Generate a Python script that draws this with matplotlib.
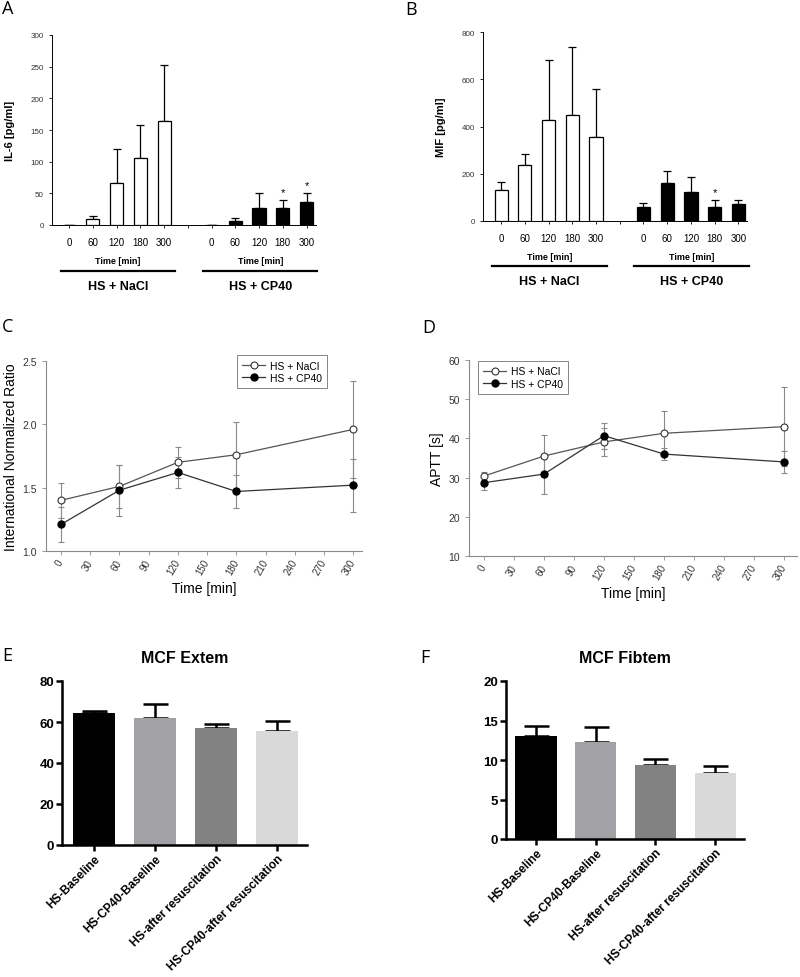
import numpy as np
import matplotlib
matplotlib.use("Agg")
from matplotlib import pyplot as plt
import matplotlib.transforms as mtrans

plt.rcParams['font.family'] = ['Liberation Sans', 'DejaVu Sans']

W, H = 800, 978

# ---- data ----
times_lbl = ['0', '60', '120', '180', '300']

il6_nacl = [0, 9, 66, 106, 164]
il6_nacl_err = [0, 5, 54, 52, 88]
il6_cp40 = [0, 6, 27, 27, 37]
il6_cp40_err = [0, 5, 23, 12, 13]
il6_star = [False, False, False, True, True]

mif_nacl = [132, 236, 429, 449, 355]
mif_nacl_err = [32, 47, 251, 287, 202]
mif_cp40 = [58, 159, 123, 59, 71]
mif_cp40_err = [20, 51, 63, 32, 20]
mif_star = [False, False, False, True, False]

t_min = [0, 60, 120, 180, 300]
inr_nacl = [1.40, 1.51, 1.70, 1.76, 1.96]
inr_nacl_err = [0.14, 0.17, 0.12, 0.26, 0.38]
inr_cp40 = [1.21, 1.48, 1.62, 1.47, 1.52]
inr_cp40_err = [0.14, 0.20, 0.12, 0.13, 0.21]

aptt_nacl = [30.4, 35.5, 39.1, 41.3, 43.0]
aptt_nacl_err = [1.0, 5.3, 3.5, 5.7, 10.0]
aptt_cp40 = [28.7, 30.9, 40.7, 36.0, 34.0]
aptt_cp40_err = [1.8, 5.1, 3.3, 1.6, 2.7]

mcf_groups = ['HS-Baseline', 'HS-CP40-Baseline', 'HS-after resuscitation',
              'HS-CP40-after resuscitation']
extem = [64.6, 62.0, 57.3, 55.4]
extem_err = [0.7, 6.7, 1.7, 5.2]
fibtem = [13.1, 12.3, 9.35, 8.3]
fibtem_err = [1.2, 1.9, 0.75, 0.9]
mcf_colors = ['#000000', '#a2a2a6', '#828282', '#d9d9d9']


def box(l, t, r, b):
    return [l / W, 1 - b / H, (r - l) / W, (b - t) / H]


fig = plt.figure(figsize=(W / 100, H / 100), dpi=100)


def bar_panel(rect, nacl, nacl_err, cp40, cp40_err, stars, ylim, yticks, ylabel, xlim):
    ax = fig.add_axes(box(*rect))
    pos1 = np.arange(5)
    pos2 = np.arange(5) + 6
    ax.bar(pos1, nacl, 0.55, color='white', edgecolor='black', lw=0.9, zorder=2)
    ax.bar(pos2, cp40, 0.55, color='black', edgecolor='black', lw=0.9, zorder=2)
    ax.errorbar(pos1, nacl, yerr=[np.zeros(5), nacl_err], fmt='none', ecolor='black',
                elinewidth=0.9, capsize=3, capthick=0.9, zorder=1)
    ax.errorbar(pos2, cp40, yerr=[np.zeros(5), cp40_err], fmt='none', ecolor='black',
                elinewidth=0.9, capsize=3, capthick=0.9, zorder=1)
    top = np.array(cp40) + np.array(cp40_err)
    for p, s, tp in zip(pos2, stars, top):
        if s:
            ax.text(p, tp + (ylim[1] * 0.015), '*', ha='center', va='bottom', fontsize=8)
    ax.set_xlim(*xlim)
    ax.set_ylim(*ylim)
    ax.set_yticks(yticks)
    ax.set_xticks(np.arange(11))
    ax.set_xticklabels(times_lbl + [''] + times_lbl, fontsize=7)
    ax.tick_params(axis='y', labelsize=5.8, labelcolor='#333333', length=2.5, width=0.6)
    ax.tick_params(axis='x', length=2.5, width=0.6, pad=6)
    for s in ['top', 'right']:
        ax.spines[s].set_visible(False)
    for s in ['left', 'bottom']:
        ax.spines[s].set_linewidth(0.7)
    ax.set_ylabel(ylabel, fontsize=8, fontweight='bold', labelpad=11)
    return ax


def group_labels(ax, y_time, y_line, y_name, spans):
    tr = mtrans.blended_transform_factory(ax.transData, ax.transAxes)
    for (x0, x1), name in zip(spans, ['HS + NaCl', 'HS + CP40']):
        xc = (x0 + x1) / 2
        ax.text(xc, y_time, 'Time [min]', transform=tr, ha='center', va='center',
                fontsize=6.5, fontweight='bold')
        ax.plot([x0, x1], [y_line, y_line], transform=tr, color='black', lw=1.6,
                clip_on=False)
        ax.text(xc, y_name, name, transform=tr, ha='center', va='center',
                fontsize=9, fontweight='bold')


# ---- A ----
axA = bar_panel((52, 36, 316, 226), il6_nacl, il6_nacl_err, il6_cp40, il6_cp40_err,
                il6_star, (0, 300), np.arange(0, 301, 50), 'IL-6 [pg/ml]', (-0.72, 10.4))
group_labels(axA, -0.185, -0.242, -0.322, [(-0.35, 4.45), (5.65, 10.45)])

# ---- B ----
axB = bar_panel((483, 33, 747, 222), mif_nacl, mif_nacl_err, mif_cp40, mif_cp40_err,
                mif_star, (0, 800), np.arange(0, 801, 200), 'MIF [pg/ml]', (-0.76, 10.36))
group_labels(axB, -0.19, -0.238, -0.32, [(-0.38, 4.45), (5.6, 10.45)])


def line_panel(rect, nacl, nacl_err, cp40, cp40_err, ylim, yticks, ylabel, xlim, legpos):
    ax = fig.add_axes(box(*rect))
    gc = '#8a8a8a'
    ax.errorbar(t_min, nacl, yerr=nacl_err, fmt='none', ecolor=gc, elinewidth=0.8,
                capsize=2.5, capthick=0.8, zorder=1)
    ax.errorbar(t_min, cp40, yerr=cp40_err, fmt='none', ecolor=gc, elinewidth=0.8,
                capsize=2.5, capthick=0.8, zorder=1)
    ax.plot(t_min, nacl, '-o', color='#555555', lw=0.9, mfc='white', mec='#333333',
            ms=5, mew=0.8, label='HS + NaCl', zorder=3)
    ax.plot(t_min, cp40, '-o', color='#333333', lw=0.9, mfc='black', mec='black',
            ms=5, label='HS + CP40', zorder=3)
    ax.set_xlim(*xlim)
    ax.set_ylim(*ylim)
    ax.set_yticks(yticks)
    ax.set_xticks(np.arange(0, 301, 30))
    ax.tick_params(axis='x', labelrotation=60, labelsize=7, colors='#333333',
                   length=3, width=0.6, color=gc)
    ax.tick_params(axis='y', labelsize=7.5, colors='#333333', length=3, width=0.6, color=gc)
    for lbl in ax.get_xticklabels():
        lbl.set_ha('right')
        lbl.set_rotation_mode('anchor')
        lbl.set_va('center')
    for s in ['top', 'right']:
        ax.spines[s].set_visible(False)
    for s in ['left', 'bottom']:
        ax.spines[s].set_color(gc)
        ax.spines[s].set_linewidth(0.8)
    ax.set_xlabel('Time [min]', fontsize=10, labelpad=3)
    ax.set_ylabel(ylabel, fontsize=10, labelpad=3)
    leg = ax.legend(loc='upper left', bbox_to_anchor=legpos, borderaxespad=0,
                    fontsize=7.5, frameon=True, fancybox=False,
                    edgecolor='#666666', handlelength=2.2, borderpad=0.5,
                    labelspacing=0.25, handletextpad=0.5)
    leg.get_frame().set_linewidth(0.7)
    return ax


# ---- C ----
line_panel((46, 362, 362, 552), inr_nacl, inr_nacl_err, inr_cp40, inr_cp40_err,
           (1.0, 2.5), [1.0, 1.5, 2.0, 2.5], 'International Normalized Ratio',
           (-15.4, 309), (0.604, 1.03))

# ---- D ----
line_panel((469, 361, 797, 557), aptt_nacl, aptt_nacl_err, aptt_cp40, aptt_cp40_err,
           (10, 60), np.arange(10, 61, 10), 'APTT [s]', (-15, 313), (0.027, 0.995))


def mcf_panel(rect, vals, errs, ylim, yticks, title, xlim):
    ax = fig.add_axes(box(*rect))
    x = np.arange(4)
    ax.bar(x, vals, 0.69, color=mcf_colors, zorder=2)
    ax.errorbar(x, vals, yerr=[np.zeros(4), errs], fmt='none', ecolor='black',
                elinewidth=1.8, capsize=9, capthick=1.8, zorder=1)
    ax.set_xlim(*xlim)
    ax.set_ylim(*ylim)
    ax.set_yticks(yticks)
    ax.set_xticks(x)
    ax.set_xticklabels(mcf_groups, rotation=45, ha='right', rotation_mode='anchor',
                       fontsize=8.6, fontweight='bold')
    ax.tick_params(axis='x', length=4, width=1.8, labelsize=8.6, pad=1.5)
    ax.tick_params(axis='y', length=4, width=1.8, labelsize=9.5, pad=1.5)
    for lbl in ax.get_yticklabels():
        lbl.set_fontweight('bold')
    for s in ['top', 'right']:
        ax.spines[s].set_visible(False)
    for s in ['left', 'bottom']:
        ax.spines[s].set_linewidth(1.8)
    ax.set_title(title, fontsize=11.5, fontweight='bold', pad=14)
    return ax


# ---- E ----
mcf_panel((62, 682, 307, 846), extem, extem_err, (0, 80), np.arange(0, 81, 20),
          'MCF Extem', (-0.52, 3.49))

# ---- F ----
mcf_panel((506, 682, 744, 840), fibtem, fibtem_err, (0, 20), np.arange(0, 21, 5),
          'MCF Fibtem', (-0.5, 3.48))

# panel letters
for letter, (px, py) in zip('ABCDEF', [(2, 9), (405, 10), (2, 327), (422, 328),
                                       (2, 656), (420, 658)]):
    fig.text(px / W, 1 - py / H, letter, fontsize=13, ha='left', va='center',
             family=['Open Sans', 'DejaVu Sans'])

plt.savefig('out.png', dpi=100)
